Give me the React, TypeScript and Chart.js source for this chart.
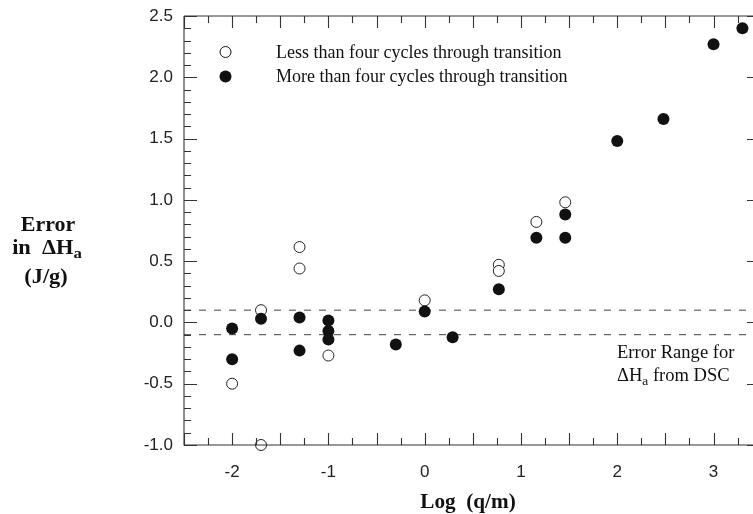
import React, { useEffect, useRef } from "react";
import { Chart, registerables } from "chart.js";
Chart.register(...registerables);

// Data
const lessX = [-1.3, -1.3, -1.7, -2.0, -1.7, -1.0, 0.0, 0.77, 0.77, 1.16, 1.46];
const lessY = [0.615, 0.44, 0.1, -0.5, -1.0, -0.27, 0.18, 0.47, 0.42, 0.82, 0.98];
const moreX = [-2.0, -2.0, -1.7, -1.3, -1.3, -1.0, -1.0, -1.0, -0.3, 0.0, 0.29, 0.77, 1.16, 1.46, 1.46, 2.0, 2.48, 3.0, 3.3];
const moreY = [-0.05, -0.3, 0.03, 0.04, -0.23, 0.015, -0.07, -0.14, -0.18, 0.09, -0.12, 0.27, 0.69, 0.69, 0.88, 1.48, 1.66, 2.27, 2.4];
const errorBand = [0.1, -0.1];
const xLimits = [-2.5, 3.41];
const yLimits = [-1.0, 2.5];
const xTickValues = [-2, -1, 0, 1, 2, 3];
const yTickValues = [-1.0, -0.5, 0.0, 0.5, 1.0, 1.5, 2.0, 2.5];
const legendLabels = [
  "Less than four cycles through transition",
  "More than four cycles through transition",
];

const SERIF = "'Liberation Serif', 'Times New Roman', serif";
const SANS = "'Liberation Sans', Arial, sans-serif";

function drawRich(
  ctx: CanvasRenderingContext2D,
  parts: { t: string; size: number; dy: number }[],
  x: number,
  y: number,
  bold: boolean,
  align: "left" | "center",
  sx = 1
) {
  const w = parts.map((p) => {
    ctx.font = `${bold ? "bold " : ""}${p.size}px ${SERIF}`;
    return ctx.measureText(p.t).width * sx;
  });
  const total = w.reduce((a, b) => a + b, 0);
  let cx = align === "center" ? x - total / 2 : x;
  ctx.textAlign = "left";
  ctx.textBaseline = "alphabetic";
  parts.forEach((p, i) => {
    ctx.font = `${bold ? "bold " : ""}${p.size}px ${SERIF}`;
    ctx.save();
    ctx.translate(cx, y + p.dy);
    ctx.scale(sx, 1);
    ctx.fillText(p.t, 0, 0);
    ctx.restore();
    cx += w[i];
  });
}

const decor = {
  id: "decor",
  afterDraw(chart: any) {
    const { ctx, chartArea: a } = chart;
    const xs = chart.scales.x;
    const ys = chart.scales.y;
    ctx.save();
    ctx.strokeStyle = "#333";
    ctx.lineWidth = 1.1;
    ctx.beginPath();
    ctx.moveTo(a.left, a.top);
    ctx.lineTo(a.right, a.top);
    ctx.moveTo(a.left, a.top);
    ctx.lineTo(a.left, a.bottom);
    ctx.lineTo(a.right, a.bottom);
    for (let i = -10; i <= 14; i++) {
      const v = i * 0.25;
      if (v < xLimits[0] || v > xLimits[1]) continue;
      const px = Math.round(xs.getPixelForValue(v)) + 0.5;
      const len = i % 2 === 0 ? 12 : 7;
      ctx.moveTo(px, a.bottom);
      ctx.lineTo(px, a.bottom - len);
      ctx.moveTo(px, a.top);
      ctx.lineTo(px, a.top + len);
    }
    for (let i = -10; i <= 25; i++) {
      const v = i / 10;
      const py = Math.round(ys.getPixelForValue(v)) + 0.5;
      const len = i % 5 === 0 ? 13 : 7;
      ctx.moveTo(a.left, py);
      ctx.lineTo(a.left + len, py);
      if (i % 5 === 0) {
        ctx.moveTo(a.right, py);
        ctx.lineTo(a.right - 6, py);
      }
    }
    ctx.stroke();

    // legend
    ctx.strokeStyle = "#111";
    ctx.lineWidth = 1;
    ctx.beginPath();
    ctx.arc(225.5, 52, 5.5, 0, Math.PI * 2);
    ctx.fillStyle = "#fff";
    ctx.fill();
    ctx.stroke();
    ctx.fillStyle = "#111";
    ctx.beginPath();
    ctx.arc(225.5, 76.5, 6, 0, Math.PI * 2);
    ctx.fill();
    drawRich(ctx, [{ t: legendLabels[0], size: 18, dy: 0 }], 276, 58, false, "left");
    drawRich(ctx, [{ t: legendLabels[1], size: 18, dy: 0 }], 276, 82, false, "left");

    // annotation
    drawRich(ctx, [{ t: "Error Range for", size: 18, dy: 0 }], 617, 358, false, "left", 1.03);
    drawRich(
      ctx,
      [
        { t: "\u0394H", size: 18, dy: 0 },
        { t: "a", size: 13, dy: 4 },
        { t: " from DSC", size: 18, dy: 0 },
      ],
      617,
      381,
      false,
      "left",
      1.03
    );

    // y title
    drawRich(ctx, [{ t: "Error", size: 20, dy: 0 }], 48, 231, true, "center", 1.1);
    drawRich(
      ctx,
      [
        { t: "in  \u0394H", size: 20, dy: 0 },
        { t: "a", size: 15, dy: 4 },
      ],
      47,
      254,
      true,
      "center",
      1.12
    );
    drawRich(ctx, [{ t: "(J/g)", size: 20, dy: 0 }], 46, 283, true, "center", 1.12);

    // x title
    drawRich(ctx, [{ t: "Log  (q/m)", size: 20, dy: 0 }], 468, 508, true, "center", 1.06);
    ctx.restore();
  },
};

export default function App() {
  const ref = useRef<HTMLCanvasElement>(null);
  useEffect(() => {
    if (!ref.current) return;
    const chart = new Chart(ref.current, {
      type: "scatter",
      data: {
        datasets: [
          {
            label: legendLabels[1],
            data: moreX.map((x, i) => ({ x, y: moreY[i] })),
            backgroundColor: "#111",
            borderColor: "#111",
            borderWidth: 0,
            pointRadius: 6,
            clip: false,
            order: 0,
          },
          {
            label: legendLabels[0],
            data: lessX.map((x, i) => ({ x, y: lessY[i] })),
            backgroundColor: "#fff",
            borderColor: "#222",
            borderWidth: 1,
            pointRadius: 5.5,
            clip: false,
            order: 1,
          },
          ...errorBand.map((v) => ({
            type: "line" as const,
            label: "band",
            data: [
              { x: xLimits[0], y: v },
              { x: xLimits[1], y: v },
            ],
            borderColor: "#444",
            borderWidth: 1,
            borderDash: [7, 8],
            pointRadius: 0,
            fill: false,
            order: 2,
          })),
        ],
      },
      options: {
        animation: false,
        responsive: false,
        events: [],
        layout: { autoPadding: false, padding: { top: 16, right: 0, left: 0, bottom: 0 } },
        plugins: { legend: { display: false }, tooltip: { enabled: false } },
        scales: {
          x: {
            type: "linear",
            min: xLimits[0],
            max: xLimits[1],
            afterBuildTicks: (s: any) => {
              s.ticks = xTickValues.map((v) => ({ value: v }));
            },
            afterFit: (s: any) => {
              s.height = 69;
              s.paddingLeft = 0;
              s.paddingRight = 0;
              s.paddingTop = 0;
              s.paddingBottom = 0;
            },
            grid: { display: false, drawTicks: false },
            border: { display: false },
            ticks: {
              padding: 17,
              color: "#222",
              font: { family: SANS, size: 17 },
              callback: (v: any) => String(v),
            },
          },
          y: {
            type: "linear",
            min: yLimits[0],
            max: yLimits[1],
            afterBuildTicks: (s: any) => {
              s.ticks = yTickValues.map((v) => ({ value: v }));
            },
            afterFit: (s: any) => {
              s.width = 184;
              s.paddingLeft = 0;
              s.paddingRight = 0;
              s.paddingTop = 0;
              s.paddingBottom = 0;
            },
            grid: { display: false, drawTicks: false },
            border: { display: false },
            ticks: {
              padding: 11,
              color: "#222",
              font: { family: SANS, size: 17 },
              callback: (v: any) => Number(v).toFixed(1),
            },
          },
        },
      },
      plugins: [decor],
    });
    return () => chart.destroy();
  }, []);
  return (
    <div style={{ position: "absolute", left: 0, top: 0, width: 753, height: 514, background: "#fff" }}>
      <canvas ref={ref} width={753} height={514} style={{ width: 753, height: 514, display: "block" }} />
    </div>
  );
}
